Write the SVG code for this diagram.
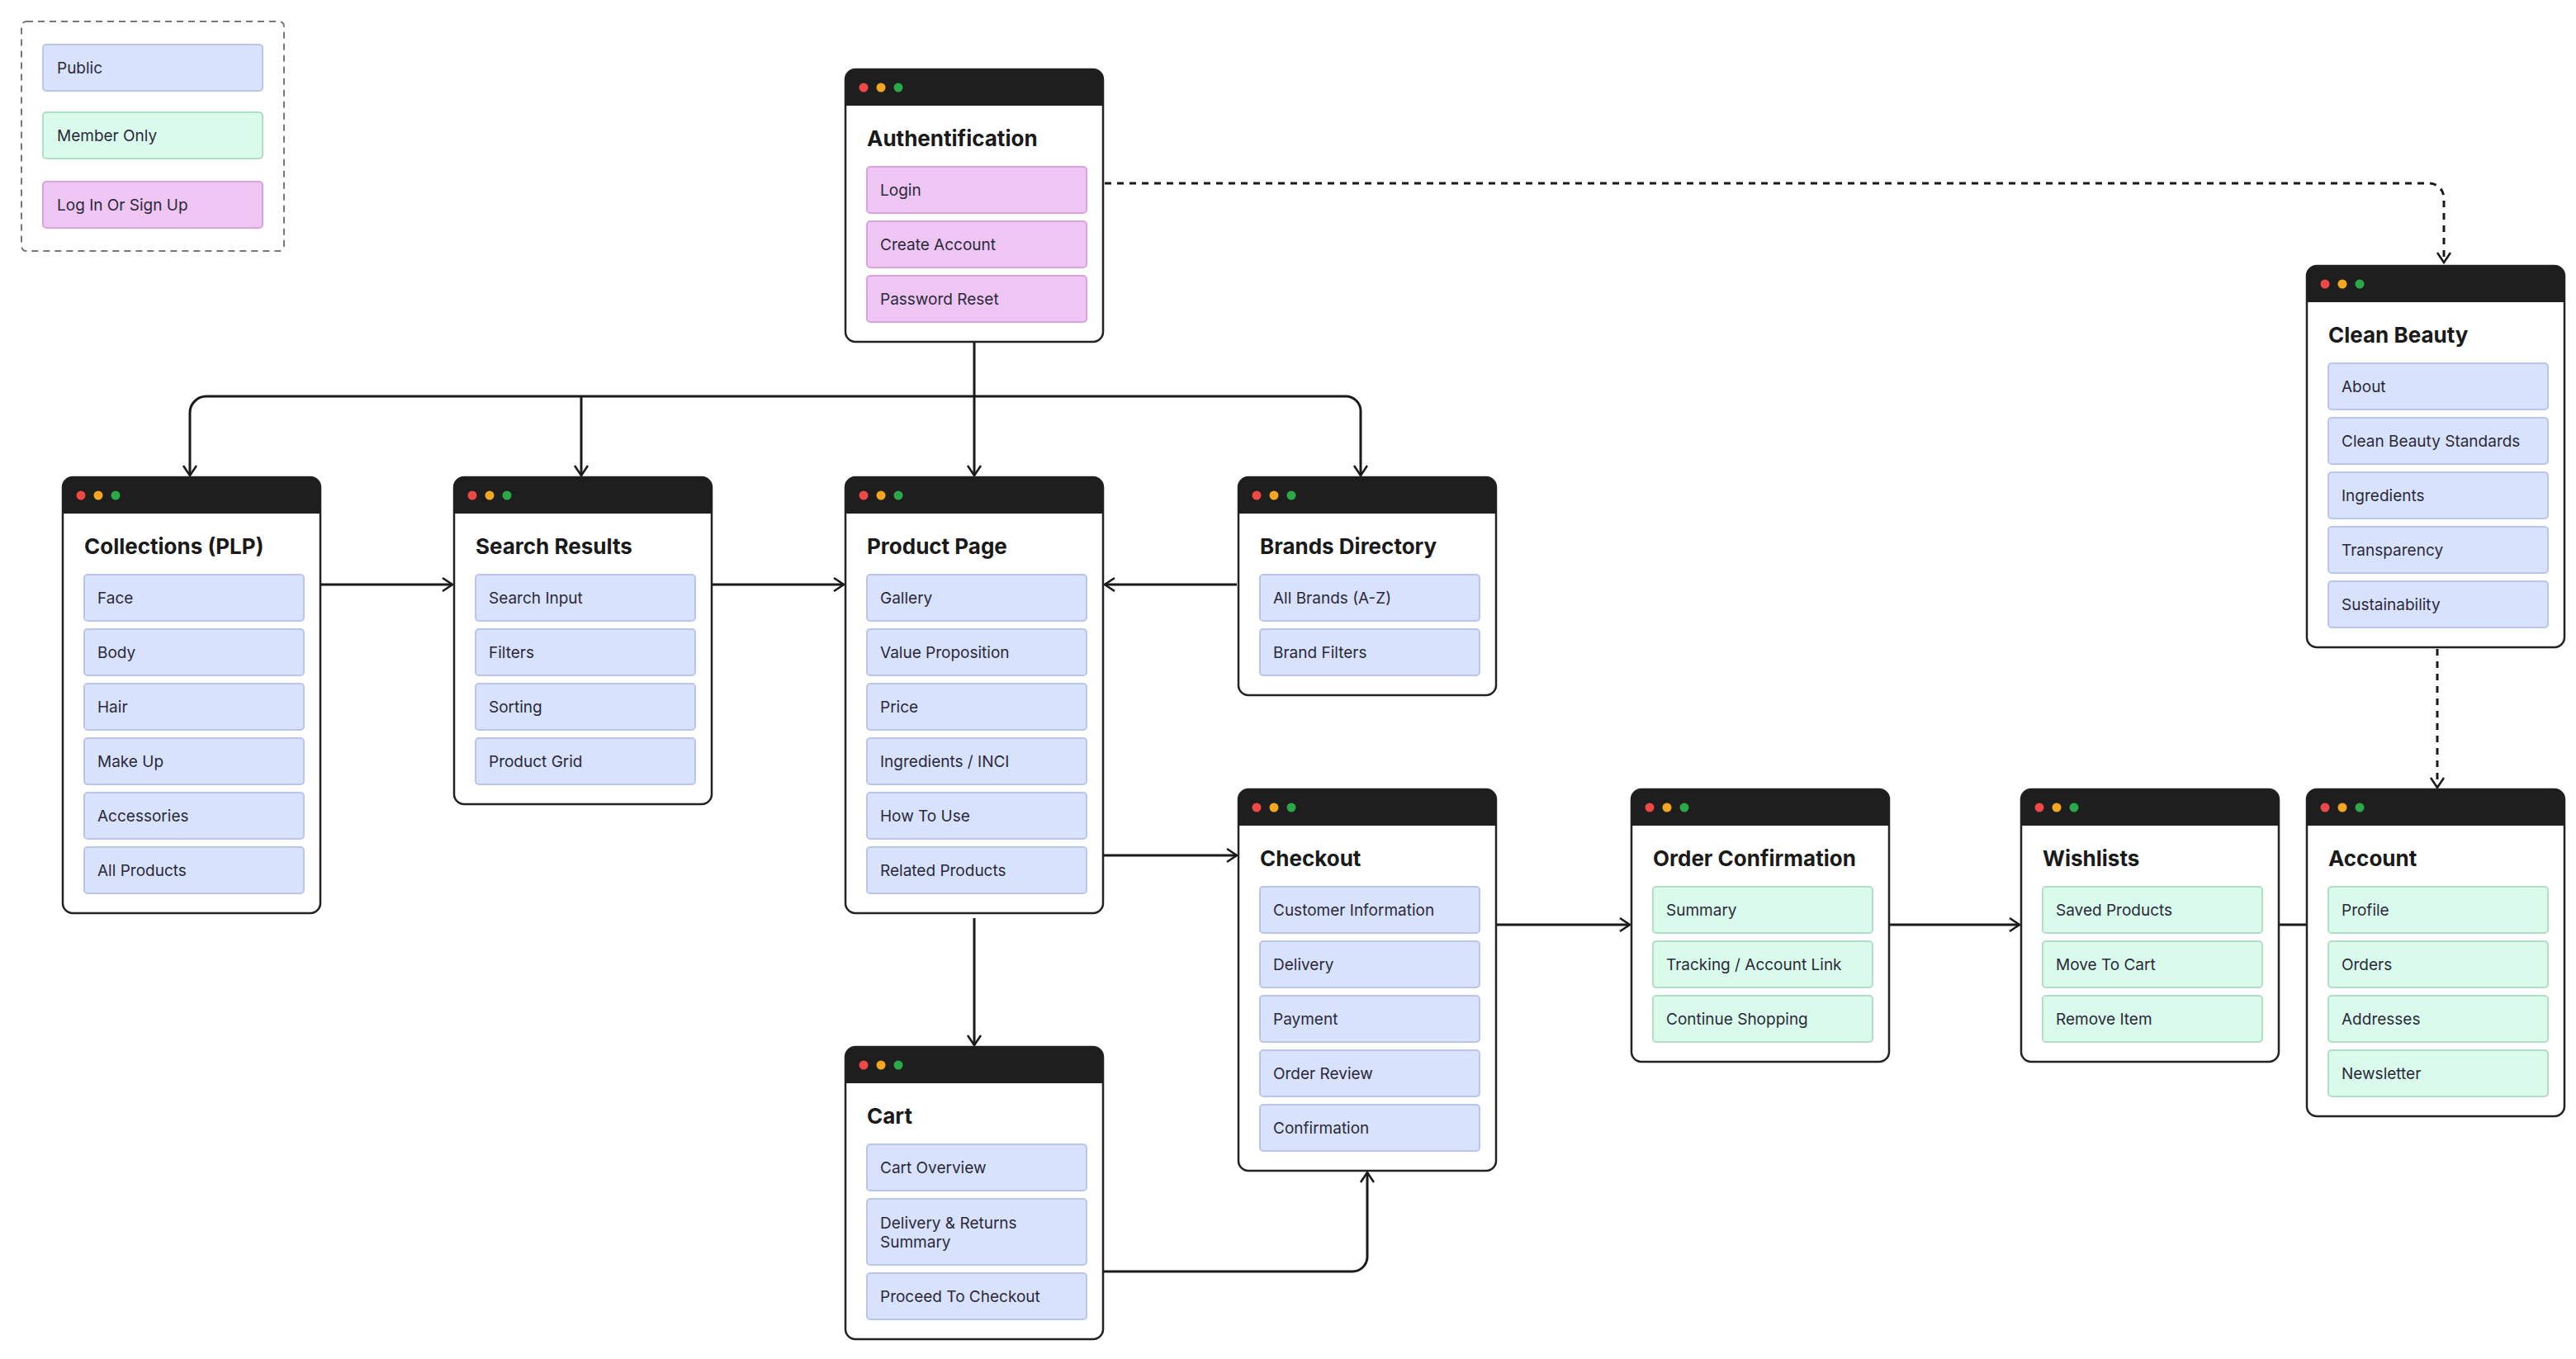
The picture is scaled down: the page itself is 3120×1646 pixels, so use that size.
<svg xmlns="http://www.w3.org/2000/svg" width="3120" height="1646" viewBox="0 0 3120 1646">
<style>
.box{fill:#fff;stroke:#222;stroke-width:2.5}
.hdr{fill:#1e1e1e}
.t{font-family:Inter,"Liberation Sans",sans-serif;font-size:26px;font-weight:700;fill:#1a1a1a}
.i{font-family:Inter,"Liberation Sans",sans-serif;font-size:19px;fill:#2a2a3a}
.b{fill:#d9e2fd;stroke:#b9c5ee;stroke-width:2}
.g{fill:#dafbeb;stroke:#afe0c6;stroke-width:2}
.p{fill:#efc6f3;stroke:#d9a2e0;stroke-width:2}
.c{fill:none;stroke:#1a1a1a;stroke-width:3}
.d{fill:none;stroke:#1a1a1a;stroke-width:3;stroke-dasharray:8 7}
</style>
<defs>
<marker id="a" viewBox="0 0 20 20" refX="18" refY="10" markerWidth="20" markerHeight="20" markerUnits="userSpaceOnUse" orient="auto"><path d="M6,2 L18,10 L6,18" fill="none" stroke="#1a1a1a" stroke-width="2.5"/></marker>
<g id="hd"><path d="M0,12 a12,12 0 0 1 12,-12 h288 a12,12 0 0 1 12,12 v32 h-312z" class="hdr"/><circle cx="22" cy="22" r="5.5" fill="#f04747"/><circle cx="43" cy="22" r="5.5" fill="#f5a623"/><circle cx="64" cy="22" r="5.5" fill="#2aa84a"/></g>
</defs>
<g id="legend">
<rect x="26" y="26" width="318" height="278" rx="6" fill="none" stroke="#777" stroke-width="2" stroke-dasharray="8 6"/>
<rect x="52" y="54" width="266" height="56" rx="4" class="b"/><text x="69" y="89" class="i">Public</text>
<rect x="52" y="136" width="266" height="56" rx="4" class="g"/><text x="69" y="171" class="i">Member Only</text>
<rect x="52" y="220" width="266" height="56" rx="4" class="p"/><text x="69" y="255" class="i">Log In Or Sign Up</text>
</g>
<g id="connectors">
<path class="c" d="M1180,414 V480"/>
<path class="c" d="M250,480 H1630 a18,18 0 0 1 18,18 V576" marker-end="url(#a)"/>
<path class="c" d="M250,480 a20,20 0 0 0 -20,20 V576" marker-end="url(#a)"/>
<path class="c" d="M704,480 V576" marker-end="url(#a)"/>
<path class="c" d="M1180,480 V576" marker-end="url(#a)"/>
<path class="d" d="M1338,222 H2942 a18,18 0 0 1 18,18 V318" marker-end="url(#a)"/>
<path class="c" d="M388,708 H548" marker-end="url(#a)"/>
<path class="c" d="M862,708 H1022" marker-end="url(#a)"/>
<path class="c" d="M1498,708 H1338" marker-end="url(#a)"/>
<path class="c" d="M1336,1036 H1498" marker-end="url(#a)"/>
<path class="c" d="M1180,1112 V1266" marker-end="url(#a)"/>
<path class="c" d="M1336,1540 H1638 a18,18 0 0 0 18,-18 V1420" marker-end="url(#a)"/>
<path class="c" d="M1812,1120 H1974" marker-end="url(#a)"/>
<path class="c" d="M2288,1120 H2446" marker-end="url(#a)"/>
<path class="c" d="M2760,1120 H2794"/>
<path class="d" d="M2952,786 V954" marker-end="url(#a)"/>
</g>
<g id="auth" transform="translate(1024,84)">
<rect width="312" height="330" rx="12" class="box"/><use href="#hd"/>
<text x="26" y="93" class="t">Authentification</text>
<rect x="26" y="118" width="266" height="56" rx="4" class="p"/><text x="42" y="153" class="i">Login</text>
<rect x="26" y="184" width="266" height="56" rx="4" class="p"/><text x="42" y="219" class="i">Create Account</text>
<rect x="26" y="250" width="266" height="56" rx="4" class="p"/><text x="42" y="285" class="i">Password Reset</text>
</g>
<g id="cleanbeauty" transform="translate(2794,322)">
<rect width="312" height="462" rx="12" class="box"/><use href="#hd"/>
<text x="26" y="93" class="t">Clean Beauty</text>
<rect x="26" y="118" width="266" height="56" rx="4" class="b"/><text x="42" y="153" class="i">About</text>
<rect x="26" y="184" width="266" height="56" rx="4" class="b"/><text x="42" y="219" class="i">Clean Beauty Standards</text>
<rect x="26" y="250" width="266" height="56" rx="4" class="b"/><text x="42" y="285" class="i">Ingredients</text>
<rect x="26" y="316" width="266" height="56" rx="4" class="b"/><text x="42" y="351" class="i">Transparency</text>
<rect x="26" y="382" width="266" height="56" rx="4" class="b"/><text x="42" y="417" class="i">Sustainability</text>
</g>
<g id="collections" transform="translate(76,578)">
<rect width="312" height="528" rx="12" class="box"/><use href="#hd"/>
<text x="26" y="93" class="t">Collections (PLP)</text>
<rect x="26" y="118" width="266" height="56" rx="4" class="b"/><text x="42" y="153" class="i">Face</text>
<rect x="26" y="184" width="266" height="56" rx="4" class="b"/><text x="42" y="219" class="i">Body</text>
<rect x="26" y="250" width="266" height="56" rx="4" class="b"/><text x="42" y="285" class="i">Hair</text>
<rect x="26" y="316" width="266" height="56" rx="4" class="b"/><text x="42" y="351" class="i">Make Up</text>
<rect x="26" y="382" width="266" height="56" rx="4" class="b"/><text x="42" y="417" class="i">Accessories</text>
<rect x="26" y="448" width="266" height="56" rx="4" class="b"/><text x="42" y="483" class="i">All Products</text>
</g>
<g id="search" transform="translate(550,578)">
<rect width="312" height="396" rx="12" class="box"/><use href="#hd"/>
<text x="26" y="93" class="t">Search Results</text>
<rect x="26" y="118" width="266" height="56" rx="4" class="b"/><text x="42" y="153" class="i">Search Input</text>
<rect x="26" y="184" width="266" height="56" rx="4" class="b"/><text x="42" y="219" class="i">Filters</text>
<rect x="26" y="250" width="266" height="56" rx="4" class="b"/><text x="42" y="285" class="i">Sorting</text>
<rect x="26" y="316" width="266" height="56" rx="4" class="b"/><text x="42" y="351" class="i">Product Grid</text>
</g>
<g id="product" transform="translate(1024,578)">
<rect width="312" height="528" rx="12" class="box"/><use href="#hd"/>
<text x="26" y="93" class="t">Product Page</text>
<rect x="26" y="118" width="266" height="56" rx="4" class="b"/><text x="42" y="153" class="i">Gallery</text>
<rect x="26" y="184" width="266" height="56" rx="4" class="b"/><text x="42" y="219" class="i">Value Proposition</text>
<rect x="26" y="250" width="266" height="56" rx="4" class="b"/><text x="42" y="285" class="i">Price</text>
<rect x="26" y="316" width="266" height="56" rx="4" class="b"/><text x="42" y="351" class="i">Ingredients / INCI</text>
<rect x="26" y="382" width="266" height="56" rx="4" class="b"/><text x="42" y="417" class="i">How To Use</text>
<rect x="26" y="448" width="266" height="56" rx="4" class="b"/><text x="42" y="483" class="i">Related Products</text>
</g>
<g id="brands" transform="translate(1500,578)">
<rect width="312" height="264" rx="12" class="box"/><use href="#hd"/>
<text x="26" y="93" class="t">Brands Directory</text>
<rect x="26" y="118" width="266" height="56" rx="4" class="b"/><text x="42" y="153" class="i">All Brands (A-Z)</text>
<rect x="26" y="184" width="266" height="56" rx="4" class="b"/><text x="42" y="219" class="i">Brand Filters</text>
</g>
<g id="checkout" transform="translate(1500,956)">
<rect width="312" height="462" rx="12" class="box"/><use href="#hd"/>
<text x="26" y="93" class="t">Checkout</text>
<rect x="26" y="118" width="266" height="56" rx="4" class="b"/><text x="42" y="153" class="i">Customer Information</text>
<rect x="26" y="184" width="266" height="56" rx="4" class="b"/><text x="42" y="219" class="i">Delivery</text>
<rect x="26" y="250" width="266" height="56" rx="4" class="b"/><text x="42" y="285" class="i">Payment</text>
<rect x="26" y="316" width="266" height="56" rx="4" class="b"/><text x="42" y="351" class="i">Order Review</text>
<rect x="26" y="382" width="266" height="56" rx="4" class="b"/><text x="42" y="417" class="i">Confirmation</text>
</g>
<g id="orderconfirmation" transform="translate(1976,956)">
<rect width="312" height="330" rx="12" class="box"/><use href="#hd"/>
<text x="26" y="93" class="t">Order Confirmation</text>
<rect x="26" y="118" width="266" height="56" rx="4" class="g"/><text x="42" y="153" class="i">Summary</text>
<rect x="26" y="184" width="266" height="56" rx="4" class="g"/><text x="42" y="219" class="i">Tracking / Account Link</text>
<rect x="26" y="250" width="266" height="56" rx="4" class="g"/><text x="42" y="285" class="i">Continue Shopping</text>
</g>
<g id="wishlists" transform="translate(2448,956)">
<rect width="312" height="330" rx="12" class="box"/><use href="#hd"/>
<text x="26" y="93" class="t">Wishlists</text>
<rect x="26" y="118" width="266" height="56" rx="4" class="g"/><text x="42" y="153" class="i">Saved Products</text>
<rect x="26" y="184" width="266" height="56" rx="4" class="g"/><text x="42" y="219" class="i">Move To Cart</text>
<rect x="26" y="250" width="266" height="56" rx="4" class="g"/><text x="42" y="285" class="i">Remove Item</text>
</g>
<g id="account" transform="translate(2794,956)">
<rect width="312" height="396" rx="12" class="box"/><use href="#hd"/>
<text x="26" y="93" class="t">Account</text>
<rect x="26" y="118" width="266" height="56" rx="4" class="g"/><text x="42" y="153" class="i">Profile</text>
<rect x="26" y="184" width="266" height="56" rx="4" class="g"/><text x="42" y="219" class="i">Orders</text>
<rect x="26" y="250" width="266" height="56" rx="4" class="g"/><text x="42" y="285" class="i">Addresses</text>
<rect x="26" y="316" width="266" height="56" rx="4" class="g"/><text x="42" y="351" class="i">Newsletter</text>
</g>
<g id="cart" transform="translate(1024,1268)">
<rect width="312" height="354" rx="12" class="box"/><use href="#hd"/>
<text x="26" y="93" class="t">Cart</text>
<rect x="26" y="118" width="266" height="56" rx="4" class="b"/><text x="42" y="153" class="i">Cart Overview</text>
<rect x="26" y="184" width="266" height="80" rx="4" class="b"/><text x="42" y="220" class="i">Delivery &amp; Returns</text><text x="42" y="243" class="i">Summary</text>
<rect x="26" y="274" width="266" height="56" rx="4" class="b"/><text x="42" y="309" class="i">Proceed To Checkout</text>
</g>
</svg>
